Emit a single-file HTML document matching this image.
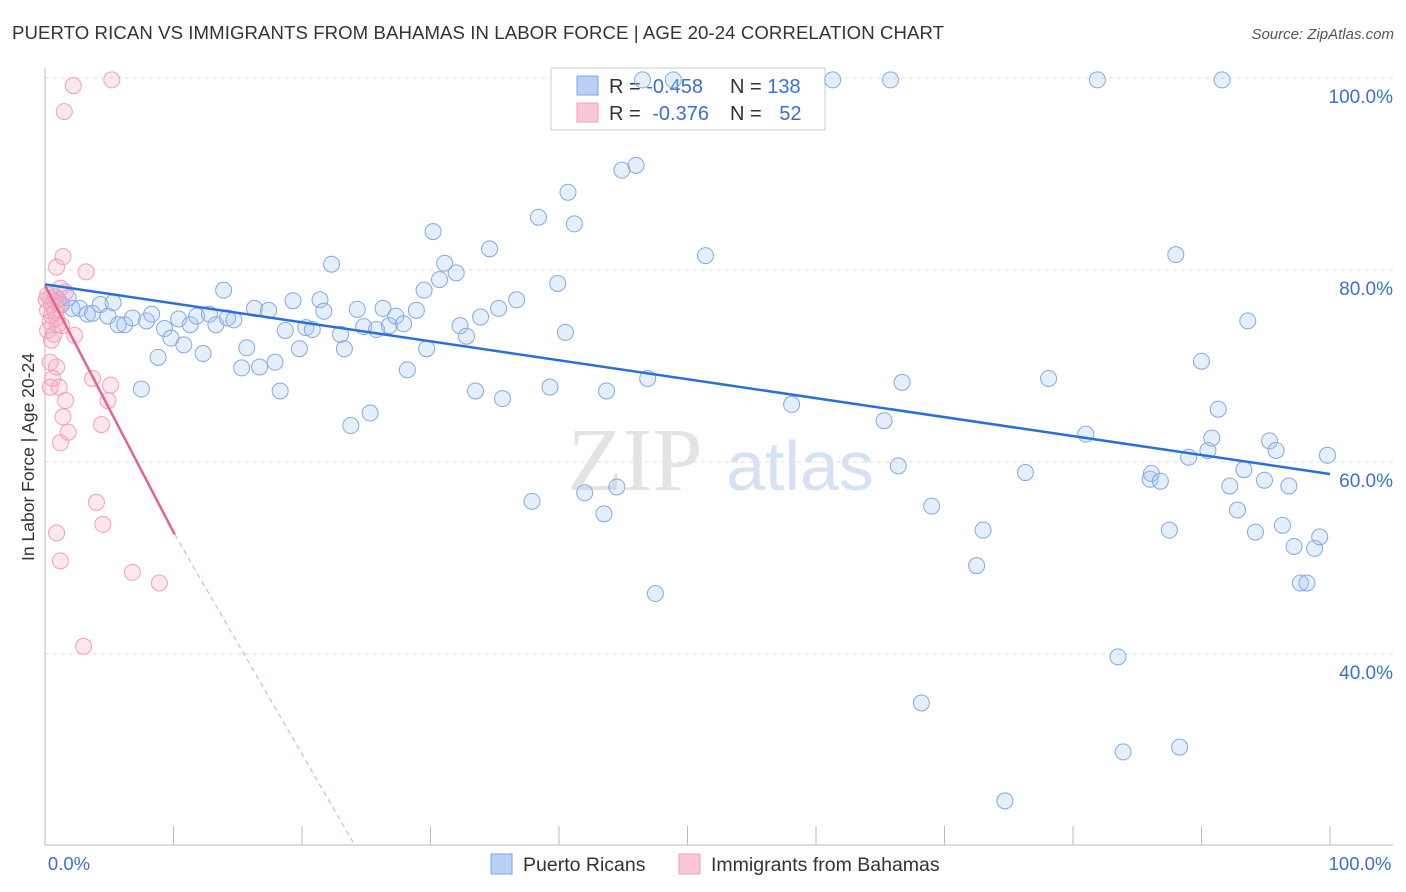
<!DOCTYPE html>
<html><head><meta charset="utf-8"><style>
body{margin:0;background:#fff;font-family:"Liberation Sans",sans-serif;}
</style></head><body>
<svg id="chart" width="1406" height="892" xmlns="http://www.w3.org/2000/svg" style="display:block">
<text x="12" y="39" font-size="18.6" fill="#333" textLength="932">PUERTO RICAN VS IMMIGRANTS FROM BAHAMAS IN LABOR FORCE | AGE 20-24 CORRELATION CHART</text>
<text x="1394" y="39" font-size="15" fill="#555" font-style="italic" text-anchor="end">Source: ZipAtlas.com</text>
<g id="grid"></g>
<g><text x="635" y="490" font-family="Liberation Serif" font-size="90" fill="#e3e3e3" text-anchor="middle">ZIP</text><text x="800" y="490" font-size="70" fill="#d6e2f3" text-anchor="middle">atlas</text></g>
<line x1="45" y1="68" x2="45" y2="845" stroke="#bbb"/>
<line x1="45" y1="845" x2="1393" y2="845" stroke="#bbb"/>
<g id="xticks"></g>
<g>
<rect x="551" y="68" width="274" height="62" fill="#fff" stroke="#ccc"/>
<rect x="577" y="76" width="21" height="19" fill="#b8d0f5" stroke="#7fa6e0"/>
<rect x="577" y="103" width="21" height="19" fill="#f9c7d6" stroke="#f0a0bb"/>
<text x="609" y="93" font-size="20" fill="#333">R = <tspan fill="#3a70d0">-0.458</tspan></text>
<text x="730" y="93" font-size="20" fill="#333">N = <tspan fill="#3a70d0">138</tspan></text>
<text x="609" y="120" font-size="20" fill="#333">R = <tspan fill="#3a70d0" dx="6">-0.376</tspan></text>
<text x="730" y="120" font-size="20" fill="#333">N = <tspan fill="#3a70d0" dx="12">52</tspan></text>
</g>
<g id="pts"></g>
<g id="trend"></g>
<text x="69" y="870" font-size="18.5" fill="#3a70d0" text-anchor="middle">0.0%</text>
<text x="1360" y="870" font-size="18.5" fill="#3a70d0" text-anchor="middle">100.0%</text>
<text transform="translate(34,457) rotate(-90)" font-size="17.5" fill="#333" text-anchor="middle">In Labor Force | Age 20-24</text>
<g>
<rect x="491" y="854" width="21" height="20" fill="#b8d0f5" stroke="#7fa6e0"/>
<text x="523" y="871" font-size="19.5" fill="#333">Puerto Ricans</text>
<rect x="679" y="854" width="21" height="20" fill="#f9c7d6" stroke="#f0a0bb"/>
<text x="711" y="871" font-size="19.5" fill="#333">Immigrants from Bahamas</text>
</g>
</svg>
<script>
const yTicks=[100,80,60,40];
const yTickLabels=["100.0%","80.0%","60.0%","40.0%"];
const xTicks=[0,10,20,30,40,50,60,70,80,90,100];
const blueX=[0.8,1.0,1.3,1.8,2.1,2.7,3.3,3.7,4.3,4.9,5.3,5.7,6.2,6.8,7.5,7.9,8.3,8.8,9.3,9.8,10.4,10.8,11.3,11.8,12.3,12.8,13.3,13.9,14.2,14.7,15.3,15.7,16.3,16.7,17.4,17.9,18.3,18.7,19.3,19.8,20.3,20.8,21.4,21.7,22.3,23.0,23.3,23.8,24.3,24.8,25.3,25.8,26.3,26.8,27.3,27.9,28.2,28.9,29.5,29.7,30.2,30.7,31.1,32.0,32.3,32.8,33.5,33.9,34.6,35.3,35.6,36.7,37.9,38.4,39.3,39.9,40.5,40.7,41.2,42.0,43.5,43.7,44.5,44.9,46.0,46.9,47.5,46.5,48.9,51.4,58.1,61.3,65.3,65.8,66.4,66.7,69.0,72.5,73.0,74.7,68.2,76.3,78.1,81.0,81.9,83.5,83.9,86.0,86.1,86.8,87.5,88.0,88.3,89.0,90.0,90.5,90.8,91.3,91.6,92.2,92.8,93.3,93.6,94.2,94.9,95.3,95.8,96.3,96.8,97.2,97.7,98.2,98.8,99.2,99.8];
const blueY=[77.2,76.9,76.4,77.1,76.0,76.0,75.4,75.5,76.4,75.2,76.6,74.3,74.3,75.0,67.6,74.7,75.4,70.9,73.9,72.9,74.9,72.2,74.3,75.2,71.3,75.4,74.3,77.9,75.0,74.8,69.8,71.9,76.0,69.9,75.8,70.4,67.4,73.7,76.8,71.8,74.0,73.8,76.9,75.7,80.6,73.3,71.8,63.8,75.9,74.1,65.1,73.8,76.0,74.2,75.2,74.4,69.6,75.8,77.9,71.8,84.0,79.0,80.7,79.7,74.2,73.1,67.4,75.1,82.2,76.0,66.6,76.9,55.9,85.5,67.8,78.6,73.5,88.1,84.8,56.8,54.6,67.4,57.4,90.4,90.9,68.7,46.3,99.8,99.8,81.5,66.0,99.8,64.3,99.8,59.6,68.3,55.4,49.2,52.9,24.7,34.9,58.9,68.7,62.9,99.8,39.7,29.8,58.2,58.8,58.0,52.9,81.6,30.3,60.5,70.5,61.2,62.5,65.5,99.8,57.5,55.0,59.2,74.7,52.7,58.1,62.2,61.2,53.4,57.5,51.2,47.4,47.4,51.0,52.2,60.7];
const pinkX=[5.2,2.2,1.5,1.4,0.9,3.2,1.2,1.6,0.4,0.8,1.2,0.2,0.5,0.9,0.4,1.3,0.2,0.7,2.3,0.4,0.9,0.6,3.7,1.1,5.1,0.4,1.6,4.9,1.4,4.4,1.8,1.2,4.0,4.5,0.9,1.2,6.8,8.9,3.0,0.1,0.2,0.5,0.8,1.0,0.5];
const pinkY=[99.8,99.2,96.5,81.4,80.3,79.8,78.1,77.7,77.1,76.7,76.4,75.8,75.3,75.0,74.6,74.2,73.7,73.3,73.2,70.4,69.9,68.7,68.7,67.8,68.0,67.8,66.4,66.4,64.7,63.9,63.1,62.0,55.8,53.5,52.6,49.7,48.5,47.4,40.8,76.9,77.4,76.4,75.6,74.3,72.7];
const blueTrend=[78.5,58.75];      // y at x=0 and x=100
const pinkTrend=[78.4,-2.57];      // intercept, slope
const pinkSolidEnd=10.1, pinkDashEnd=24.1;

const NS="http://www.w3.org/2000/svg";
const xs=v=>45+v*12.85;
const ys=v=>78+(100-v)*9.6;
function mk(tag,attrs,parent){const e=document.createElementNS(NS,tag);for(const k in attrs)e.setAttribute(k,attrs[k]);parent.appendChild(e);return e;}
const grid=document.getElementById('grid');
yTicks.forEach((t,i)=>{
  const l=mk('line',{x1:45,x2:1393,y1:ys(t),y2:ys(t),stroke:'#ddd','stroke-dasharray':'4,4'},grid);
  
  
  const tx=mk('text',{x:1393,y:ys(t)+25,'font-size':19,fill:'#3a70d0','text-anchor':'end'},grid);
  tx.textContent=yTickLabels[i];
  
  
});
const xt=document.getElementById('xticks');
xTicks.forEach(t=>{
  const l=mk('line',{x1:xs(t),x2:xs(t),y1:826,y2:845,stroke:'#bbb'},xt);
  
  
});
const pts=document.getElementById('pts');
blueX.forEach((x,i)=>{
  const c=mk('circle',{cx:xs(x),cy:ys(blueY[i]),r:8,fill:'rgba(170,198,242,0.3)',stroke:'#85a9e2','stroke-width':1},pts);
  
  
});
pinkX.forEach((x,i)=>{
  const c=mk('circle',{cx:xs(x),cy:ys(pinkY[i]),r:8,fill:'rgba(245,175,198,0.3)',stroke:'#f0a0bb','stroke-width':1},pts);
  
  
});
const tr=document.getElementById('trend');
const bl=mk('line',{x1:xs(0),y1:ys(blueTrend[0]),x2:xs(100),y2:ys(blueTrend[1]),stroke:'#2a6fd6','stroke-width':2.5},tr);


const pf=x=>pinkTrend[0]+pinkTrend[1]*x;
const pl=mk('line',{x1:xs(0),y1:ys(pf(0)),x2:xs(pinkSolidEnd),y2:ys(pf(pinkSolidEnd)),stroke:'#e8628f','stroke-width':2.5},tr);


const pd=mk('line',{x1:xs(pinkSolidEnd),y1:ys(pf(pinkSolidEnd)),x2:xs(pinkDashEnd),y2:Math.min(845,ys(pf(pinkDashEnd))),stroke:'#f0a0bb','stroke-width':1,'stroke-dasharray':'5,4'},tr);


</script>
</body></html>
